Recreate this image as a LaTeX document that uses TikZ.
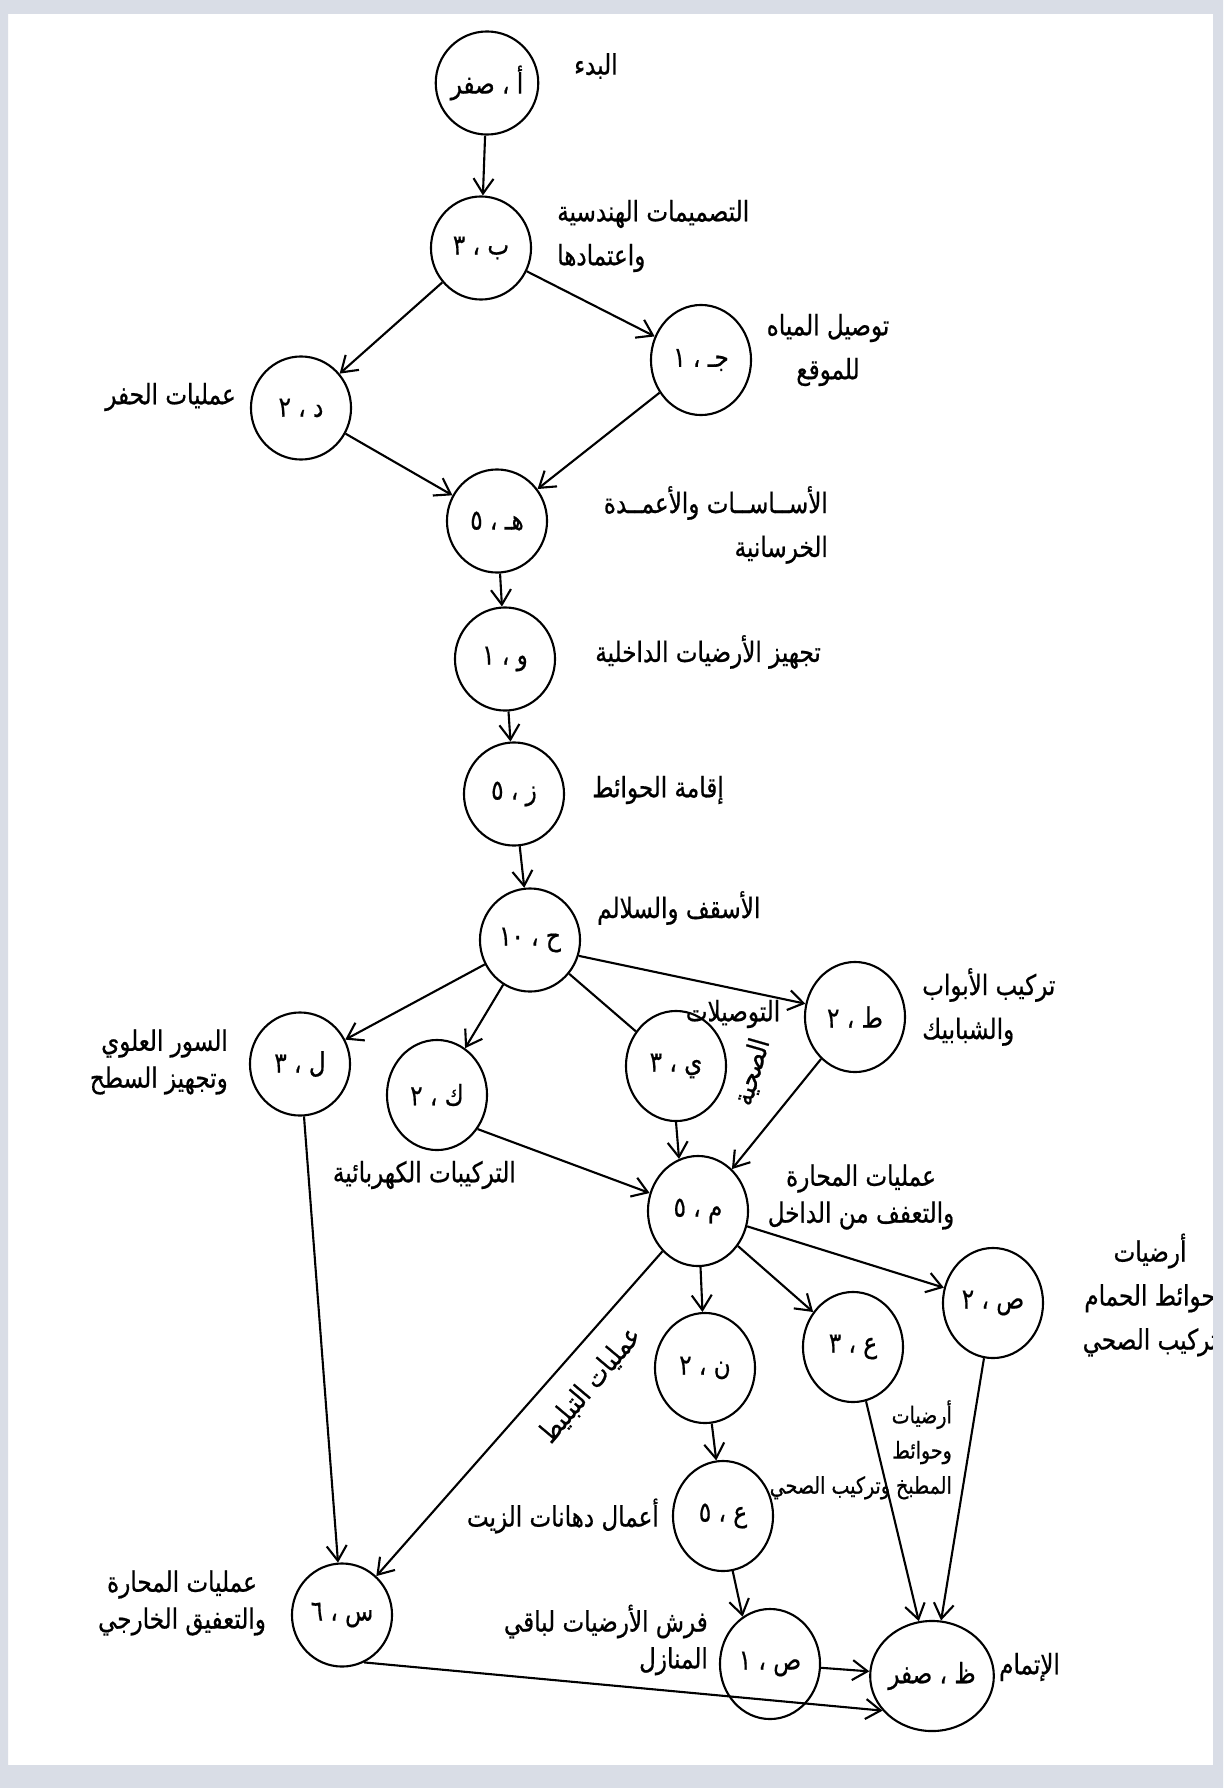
\documentclass[tikz,border=0pt]{standalone}
\usepackage{fontspec}
\newfontfamily\arabicfont[Script=Arabic,FakeStretch=0.82,FakeBold=0.6]{DejaVu Sans}
\TeXXeTstate=1
\usetikzlibrary{arrows.meta,shapes.geometric}
\newcommand{\artxt}[1]{\beginR #1\endR}
\definecolor{pageframe}{HTML}{D9DDE6}

\begin{document}
\begin{tikzpicture}[x=0.01cm,y=-0.01cm,
	event/.style={shape=ellipse,draw=black,line width=0.6pt,minimum width=1cm,minimum height=1.03cm,inner sep=0pt,font=\arabicfont\fontsize{8}{10}\selectfont},
	tall/.style={event,minimum height=1.1cm},
	note/.style={font=\arabicfont\fontsize{8}{12.5}\selectfont,inner sep=1pt},
	tightnote/.style={font=\arabicfont\fontsize{8}{10.5}\selectfont,inner sep=1pt},
	link/.style={line width=0.6pt,-{Straight Barb[length=1.5mm,width=2mm]}},
	plain/.style={line width=0.6pt}]
	\fill[white] (0,0) rectangle (1223,1788);
	\useasboundingbox (0,0) rectangle (1223,1788);

	\node[event] (alif) at (487,83) {\artxt{أ ، صفر}};
	\node[event] (ba) at (481,248) {\artxt{ب ، ٣}};
	\node[event] (dal) at (301,408) {\artxt{د ، ٢}};
	\node[tall] (jim) at (701,360) {\artxt{جـ ، ١}};
	\node[event] (ha) at (497,521) {\artxt{هـ ، ٥}};
	\node[event] (waw) at (505,659) {\artxt{و ، ١}};
	\node[event] (zay) at (514,794) {\artxt{ز ، ٥}};
	\node[event] (hha) at (530,940) {\artxt{ح ، \beginL١٠\endL}};
	\node[tall] (tta) at (855,1017) {\artxt{ط ، ٢}};
	\node[event] (lam) at (300,1064) {\artxt{ل ، ٣}};
	\node[tall] (kaf) at (437,1095) {\artxt{ك ، ٢}};
	\node[tall] (ya) at (676,1066) {\artxt{ي ، ٣}};
	\node[tall] (mim) at (698,1211) {\artxt{م ، ٥}};
	\node[tall] (sad2) at (993,1303) {\artxt{ص ، ٢}};
	\node[tall] (ayn3) at (853,1347) {\artxt{ع ، ٣}};
	\node[tall] (nun) at (705,1368) {\artxt{ن ، ٢}};
	\node[tall] (ayn5) at (723,1516) {\artxt{ع ، ٥}};
	\node[tall] (sad1) at (770,1664) {\artxt{ص ، ١}};
	\node[event] (sin) at (342,1615) {\artxt{س ، ٦}};
	\node[tall] (zza) at (932,1676) {\artxt{ظ ، صفر}};

	\node[note,anchor=west] (tAlif) at (570,66) {\artxt{البدء}};
	\node[note,align=left,anchor=west] (tBa) at (553,236) {\artxt{التصميمات الهندسية}\\\artxt{واعتمادها}};
	\node[note,align=center] (tJim) at (828,350) {\artxt{توصيل المياه}\\\artxt{للموقع}};
	\node[note,anchor=east] (tDal) at (240,397) {\artxt{عمليات الحفر}};
	\node[note,align=right,anchor=east] (tHa) at (832,525) {\artxt{الأســاســات والأعمــدة}\\\artxt{الخرسانية}};
	\node[note,anchor=east] (tWaw) at (825,652) {\artxt{تجهيز الأرضيات الداخلية}};
	\node[note,anchor=west] (tZay) at (588,790) {\artxt{إقامة الحوائط}};
	\node[note,anchor=west] (tHha) at (593,908) {\artxt{الأسقف والسلالم}};
	\node[note,align=left,anchor=west] (tTta) at (918,1007) {\artxt{تركيب الأبواب}\\\artxt{والشبابيك}};
	\node[tightnote,align=right,anchor=east] (tLam) at (232,1062) {\artxt{السور العلوي}\\\artxt{وتجهيز السطح}};
	\node[note,anchor=east] (tKaf) at (520,1175) {\artxt{التركيبات الكهربائية}};
	\node[note] (tYa) at (733,1014) {\artxt{التوصيلات}};
	\node[note,rotate=74] (tYaB) at (752,1072) {\artxt{الصحية}};
	\node[tightnote,align=center] (tMim) at (861,1197) {\artxt{عمليات المحارة}\\\artxt{والتعفف من الداخل}};
	\node[note,align=center] (tSad2) at (1150,1295) {\artxt{أرضيات}\\\artxt{حوائط الحمام}\\\artxt{تركيب الصحي}};
	\node[tightnote,align=right,anchor=north east,font=\arabicfont\fontsize{6.6}{10}\selectfont] (tAyn3) at (956,1396) {\artxt{أرضيات}\\\artxt{وحوائط}\\\artxt{المطبخ وتركيب الصحي}};
	\node[note,anchor=east] (tAyn5) at (663,1516) {\artxt{أعمال دهانات الزيت}};
	\node[tightnote,align=right,anchor=east] (tSad1) at (712,1640) {\artxt{فرش الأرضيات لباقي}\\\artxt{المنازل}};
	\node[tightnote,align=center] (tSin) at (182,1603) {\artxt{عمليات المحارة}\\\artxt{والتعفيق الخارجي}};
	\node[note,anchor=west] (tZza) at (995,1667) {\artxt{الإتمام}};
	\node[note,rotate=50] (tTile) at (590,1385) {\artxt{عمليات التبليط}};

	\draw[link] (alif) -- (ba);
	\draw[link] (ba) -- (dal);
	\draw[link] (ba) -- (jim);
	\draw[link] (dal) -- (ha);
	\draw[link] (jim) -- (ha);
	\draw[link] (ha) -- (waw);
	\draw[link] (waw) -- (zay);
	\draw[link] (zay) -- (hha);
	\draw[link] (hha) -- (lam);
	\draw[link] (hha) -- (kaf);
	\draw[plain] (hha) -- (ya);
	\draw[link] (hha.-18) -- (tta.165);
	\draw[link] (lam) -- (sin);
	\draw[link] (kaf.-40) -- (mim);
	\draw[link] (ya.south) -- (mim.110);
	\draw[link] (tta) -- (mim);
	\draw[link] (mim) -- (sin);
	\draw[link] (mim) -- (nun);
	\draw[link] (mim) -- (ayn3);
	\draw[link] (mim) -- (sad2);
	\draw[link] (nun) -- (ayn5);
	\draw[link] (ayn5.-80) -- (sad1.120);
	\draw[link] (ayn3) -- (zza);
	\draw[link] (sad2) -- (zza);
	\draw[link] (sad1) -- (zza);
	\draw[link] (sin.-65) -- (zza.215);

	\fill[pageframe,even odd rule] (0,0) rectangle (1223,1788) (8,14) rectangle (1213,1765);
\end{tikzpicture}
\end{document}
